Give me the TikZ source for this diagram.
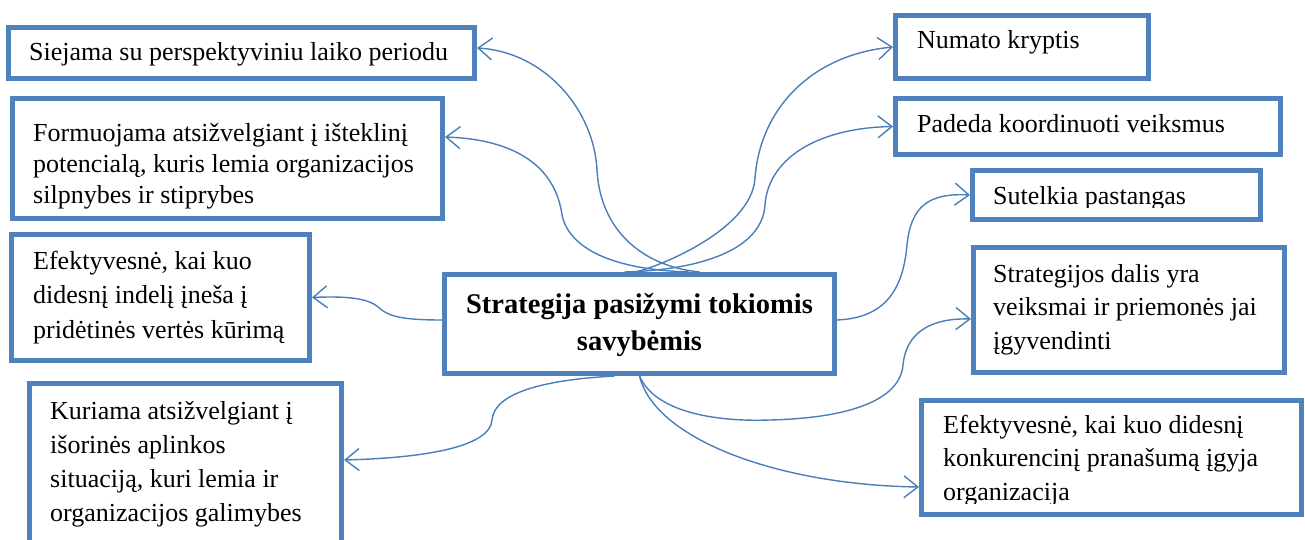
\documentclass[tikz,border=0pt]{standalone}
\usepackage{fontspec}
\setmainfont{Liberation Serif}
\usetikzlibrary{arrows.meta}

\definecolor{boxblue}{HTML}{4F81BD}
\definecolor{linkblue}{HTML}{4A7EBB}

\tikzset{
  box/.style={draw=boxblue, line width=4.6pt, fill=white, inner sep=0pt, anchor=north west},
  txt/.style={inner sep=0pt, anchor=north west, align=left, font=\fontsize{26}{34}\selectfont},
  link/.style={draw=linkblue, line width=1.4pt,
    -{Straight Barb[length=14pt, width=22pt, line width=1.4pt]}}
}

\begin{document}
\begin{tikzpicture}[x=1pt, y=1pt]
\clip (0,0) rectangle (1305,-540);
\fill[white] (0,0) rectangle (1305,-540);

% central box
\node[box, minimum width=390.4pt, minimum height=99.4pt] (ctr) at (442,-272) {};
\node[inner sep=0pt, anchor=north, align=center,
      font=\fontsize{28.5}{37}\selectfont\bfseries] (ctrt) at (639.5,-287.1)
  {\strut Strategija pasižymi tokiomis\\savybėmis};

% left column
\node[box, minimum width=466.4pt, minimum height=51.4pt] (siej) at (6,-25) {};
\node[txt] (siejt) at (29,-36.2) {\strut Siejama su perspektyviniu laiko periodu};

\node[box, minimum width=430.4pt, minimum height=120.4pt] (form) at (10,-96) {};
\node[txt, font=\fontsize{26}{31}\selectfont] (formt) at (33,-119.3)
  {\strut Formuojama atsižvelgiant į išteklinį\\potencialą, kuris lemia organizacijos\\silpnybes ir stiprybes};

\node[box, minimum width=298.4pt, minimum height=126.4pt] (efkl) at (9,-232) {};
\node[txt, font=\fontsize{26}{34.5}\selectfont] (efklt) at (33,-244.85)
  {\strut Efektyvesnė, kai kuo\\didesnį indelį įneša į\\pridėtinės vertės kūrimą};

\node[box, minimum width=312.4pt, minimum height=159.4pt] (kur) at (27,-381) {};
\node[txt] (kurt) at (50,-395.2)
  {\strut Kuriama atsižvelgiant į\\išorinės aplinkos\\situaciją, kuri lemia ir\\organizacijos galimybes};

% right column
\node[box, minimum width=253.4pt, minimum height=63.4pt] (numato) at (893,-13) {};
\node[txt] (numatot) at (917,-24.2) {\strut Numato kryptis};

\node[box, minimum width=385.4pt, minimum height=56.4pt] (padeda) at (893,-96) {};
\node[txt] (padedat) at (917,-108.2) {\strut Padeda koordinuoti veiksmus};

\node[box, minimum width=288.4pt, minimum height=49.4pt] (sutel) at (970,-168) {};
\begin{scope}
  \clip (970,-168) rectangle (1263,-207);
  \node[txt] (sutelt) at (993,-180.2) {\strut Sutelkia pastangas};
\end{scope}

\node[box, minimum width=311.4pt, minimum height=125.4pt] (strat) at (971,-245) {};
\node[txt, font=\fontsize{26}{33.5}\selectfont] (stratt) at (993,-258.55)
  {\strut Strategijos dalis yra\\veiksmai ir priemonės jai\\įgyvendinti};

\node[box, minimum width=380.4pt, minimum height=114.4pt] (efkr) at (919,-398) {};
\begin{scope}
  \clip (919,-398) rectangle (1304,-503);
  \node[txt, font=\fontsize{26}{33.5}\selectfont] (efkrt) at (943,-409.55)
    {\strut Efektyvesnė, kai kuo didesnį\\konkurencinį pranašumą įgyja\\organizacija};
\end{scope}

% connectors from the central box
\draw[link] ([xshift=60pt]ctr.north) .. controls (640,-266) and (600,-228) .. (597,-170)
  .. controls (594,-110) and (545,-52) .. ([yshift=5pt]siej.east);
\draw[link] ([xshift=50pt]ctr.north) .. controls (620,-270) and (570,-252) .. (562,-215)
  .. controls (557,-178) and (530,-140) .. ([yshift=21.5pt]form.east);
\draw[link] ([yshift=4pt]ctr.west) .. controls (400,-320) and (388,-316) .. (378,-307)
  .. controls (368,-298) and (345,-296) .. (efkl.east);
\draw[link] ([xshift=-25pt]ctr.south) .. controls (540,-380) and (494,-394) .. (492,-420)
  .. controls (490,-448) and (420,-458) .. ([yshift=3pt]kur.east);

\draw[link] ([xshift=-5pt]ctr.north) .. controls (650,-270) and (752,-232) .. (755,-178)
  .. controls (760,-110) and (810,-55) .. (numato.west);
\draw[link] ([xshift=-15pt]ctr.north) .. controls (700,-270) and (762,-250) .. (765,-205)
  .. controls (768,-160) and (815,-128) .. (padeda.west);
\draw[link] ([yshift=4pt]ctr.east) .. controls (885,-318) and (903,-290) .. (907,-245)
  .. controls (911,-205) and (930,-193) .. (sutel.west);
\draw[link] (ctr.south) .. controls (655,-412) and (715,-422) .. (770,-420)
  .. controls (850,-418) and (900,-400) .. (903,-365)
  .. controls (906,-333) and (930,-318) .. ([yshift=-9pt]strat.west);
\draw[link] (ctr.south) .. controls (655,-440) and (780,-485) .. ([yshift=-29.5pt]efkr.west);
\end{tikzpicture}
\end{document}
